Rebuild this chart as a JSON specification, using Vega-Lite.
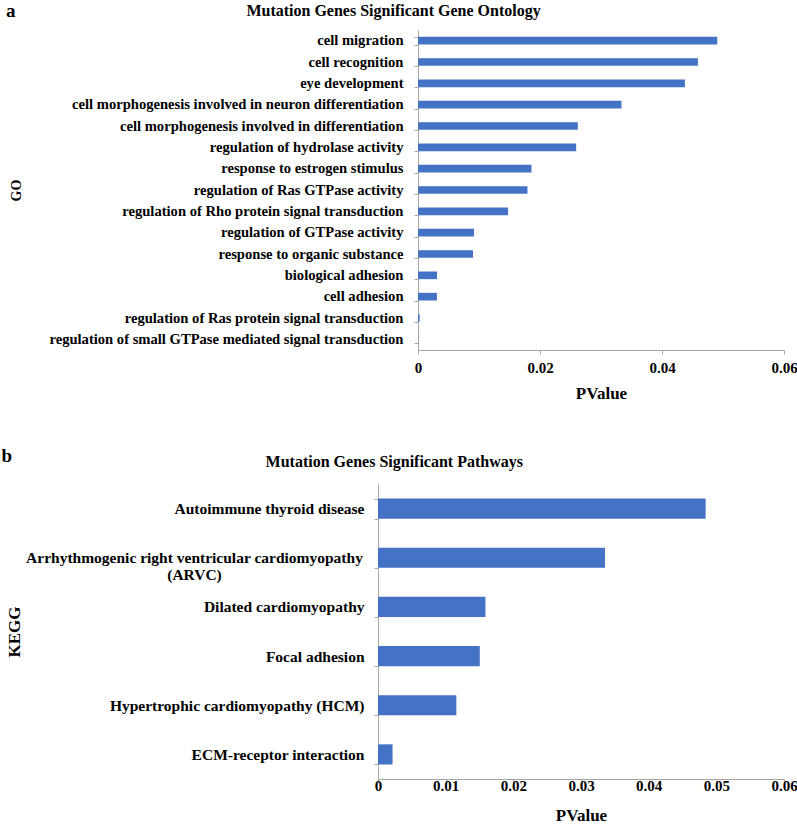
{
  "$schema": "https://vega.github.io/schema/vega-lite/v6.json",
  "background": "white",
  "padding": {"top": 2, "left": 1, "right": 0, "bottom": 0},
  "config": {
    "view": {"stroke": null},
    "font": "Liberation Serif, Times New Roman, serif",
    "axis": {
      "labelFont": "Liberation Serif, Times New Roman, serif", "titleFont": "Liberation Serif, Times New Roman, serif",
      "labelFontWeight": "bold", "titleFontWeight": "bold",
      "labelColor": "black", "titleColor": "black",
      "domainColor": "#A6A6A6", "tickColor": "#A6A6A6",
      "grid": false, "tickSize": 4, "labelLimit": 420
    },
    "title": {"font": "Liberation Serif, Times New Roman, serif", "fontWeight": "bold", "color": "black"}
  },
  "vconcat": [
    {
      "title": {"text": "a", "anchor": "start", "frame": "bounds", "fontSize": 19, "offset": -18, "dx": -4},
      "vconcat": [
        {
          "title": {"text": "Mutation Genes Significant Gene Ontology", "anchor": "middle", "frame": "bounds", "fontSize": 16, "offset": 3, "dx": -10},
          "width": 406,
          "height": 320,
          "data": {"values": [
            {"term": "cell migration", "p": 0.04906},
            {"term": "cell recognition", "p": 0.04589},
            {"term": "eye development", "p": 0.04376},
            {"term": "cell morphogenesis involved in neuron differentiation", "p": 0.03336},
            {"term": "cell morphogenesis involved in differentiation", "p": 0.0262},
            {"term": "regulation of hydrolase activity", "p": 0.02593},
            {"term": "response to estrogen stimulus", "p": 0.0186},
            {"term": "regulation of Ras GTPase activity", "p": 0.01794},
            {"term": "regulation of Rho protein signal transduction", "p": 0.01477},
            {"term": "regulation of GTPase activity", "p": 0.00919},
            {"term": "response to organic substance", "p": 0.00902},
            {"term": "biological adhesion", "p": 0.00312},
            {"term": "cell adhesion", "p": 0.0031},
            {"term": "regulation of Ras protein signal transduction", "p": 0.00027},
            {"term": "regulation of small GTPase mediated signal transduction", "p": 0.00001}
          ]},
          "mark": {"type": "bar", "color": "#4472C4"},
          "encoding": {
            "y": {"field": "term", "type": "nominal", "sort": null,
                  "scale": {"paddingInner": 0.64, "paddingOuter": 0.32},
                  "axis": {"title": "GO", "titleFontSize": 14, "titlePadding": 25, "labelFontSize": 14.6, "labelPadding": 11, "labelLimit": 420, "maxExtent": 420, "tickBand": "extent", "offset": -40}},
            "x": {"field": "p", "type": "quantitative",
                  "scale": {"domain": [0, 0.06], "nice": false, "range": [40, 406]},
                  "axis": {"title": "PValue", "values": [0, 0.02, 0.04, 0.06], "format": "~g", "labelFlush": false, "titleFontSize": 17, "labelFontSize": 15, "labelPadding": 6, "titlePadding": 10}}
          }
        }
      ]
    },
    {
      "title": {"text": "b", "anchor": "start", "frame": "bounds", "fontSize": 19, "offset": -12, "dx": -4},
      "vconcat": [
        {
          "title": {"text": "Mutation Genes Significant Pathways", "anchor": "middle", "frame": "bounds", "fontSize": 16, "offset": 7, "dx": -7},
          "width": 406,
          "height": 295,
          "data": {"values": [
            {"term": "Autoimmune thyroid disease", "p": 0.04842},
            {"term": "Arrhythmogenic right ventricular cardiomyopathy (ARVC)", "p": 0.03355},
            {"term": "Dilated cardiomyopathy", "p": 0.01588},
            {"term": "Focal adhesion", "p": 0.01504},
            {"term": "Hypertrophic cardiomyopathy (HCM)", "p": 0.01158},
            {"term": "ECM-receptor interaction", "p": 0.00215}
          ]},
          "mark": {"type": "bar", "color": "#4472C4"},
          "encoding": {
            "y": {"field": "term", "type": "nominal", "sort": null,
                  "scale": {"paddingInner": 0.59, "paddingOuter": 0.295},
                  "axis": {"title": "KEGG", "titleFontSize": 17, "titlePadding": 2, "labelFontSize": 15.5, "labelLimit": 420, "maxExtent": 420, "tickBand": "extent",
                           "labelExpr": "datum.value == 'Arrhythmogenic right ventricular cardiomyopathy (ARVC)' ? ['Arrhythmogenic right ventricular cardiomyopathy', '(ARVC)'] : datum.label",
                           "labelLineHeight": 17,
                           "labelAlign": {"condition": {"test": "datum.value == 'Arrhythmogenic right ventricular cardiomyopathy (ARVC)'", "value": "center"}, "value": "right"},
                           "labelPadding": {"condition": {"test": "datum.value == 'Arrhythmogenic right ventricular cardiomyopathy (ARVC)'", "value": 180}, "value": 10}}},
            "x": {"field": "p", "type": "quantitative",
                  "scale": {"domain": [0, 0.06], "nice": false},
                  "axis": {"title": "PValue", "values": [0, 0.01, 0.02, 0.03, 0.04, 0.05, 0.06], "format": "~g", "labelFlush": false, "titleFontSize": 17, "labelFontSize": 15, "labelPadding": -5, "titlePadding": 14}}
          }
        }
      ]
    }
  ],
  "spacing": 46
}
